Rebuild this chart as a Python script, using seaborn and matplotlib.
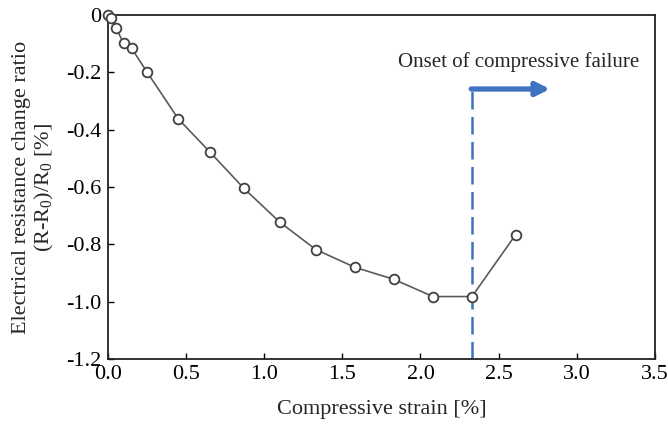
import pandas as pd
import matplotlib.pyplot as plt
import seaborn as sns

# Data
strain = [0.0, 0.02, 0.05, 0.10, 0.15, 0.25, 0.45, 0.65, 0.87, 1.10, 1.33, 1.58, 1.83, 2.08, 2.33, 2.61]
ratio = [0.0, -0.012, -0.046, -0.099, -0.116, -0.20, -0.363, -0.477, -0.605, -0.723, -0.818,
         -0.88, -0.922, -0.982, -0.982, -0.766]
xticks = [0.0, 0.5, 1.0, 1.5, 2.0, 2.5, 3.0, 3.5]
yticks = [0.0, -0.2, -0.4, -0.6, -0.8, -1.0, -1.2]
ytick_labels = ["0", "-0.2", "-0.4", "-0.6", "-0.8", "-1.0", "-1.2"]
failure_strain = 2.33

df = pd.DataFrame({"strain": strain, "ratio": ratio})

sns.set_style("ticks")
plt.rcParams['font.family'] = ['Liberation Serif', 'DejaVu Serif']
plt.rcParams['mathtext.fontset'] = 'custom'
plt.rcParams['mathtext.rm'] = 'Liberation Serif'
plt.rcParams['mathtext.it'] = 'Liberation Serif:italic'
plt.rcParams['axes.unicode_minus'] = False

fig = plt.figure(figsize=(6.68, 4.30), dpi=100)
ax = fig.add_axes([0.162, 0.165, 0.818, 0.80])

sns.lineplot(data=df, x="strain", y="ratio", ax=ax, color="#5a5a5a", linewidth=1.2,
             marker="o", markersize=7, markerfacecolor="white", markeredgecolor="#404040",
             markeredgewidth=1.3, clip_on=False, zorder=3)

# onset of compressive failure
ax.plot([failure_strain, failure_strain], [-1.2, -0.258], color="#3F72C0", linewidth=1.8,
        dashes=(7, 3), zorder=2)
ax.annotate("", xy=(2.83, -0.258), xytext=(failure_strain - 0.005, -0.258),
            arrowprops=dict(arrowstyle="-|>,head_length=0.8,head_width=0.4",
                            color="#3F72C0", lw=3.8, shrinkA=0, shrinkB=0))
ax.text(2.63, -0.165, "Onset of compressive failure", ha="center", va="center", fontsize=15)

ax.set_xlim(0, 3.5)
ax.set_ylim(-1.2, 0)
ax.set_xticks(xticks)
ax.set_xticklabels([f"{t:.1f}" for t in xticks])
ax.set_yticks(yticks)
ax.set_yticklabels(ytick_labels)
ax.tick_params(direction="in", length=4, width=1, labelsize=16, colors="black")
ax.tick_params(axis="x", pad=4)
ax.tick_params(axis="y", pad=5)
for s in ax.spines.values():
    s.set_color("#222222")
    s.set_linewidth(1.3)

ax.set_xlabel("Compressive strain [%]", fontsize=16, labelpad=12)
ax.set_ylabel("Electrical resistance change ratio\n(R-R$_0$)/R$_0$ [%]", fontsize=16,
              labelpad=7, linespacing=1.15)

plt.savefig("out.png", dpi=100)
